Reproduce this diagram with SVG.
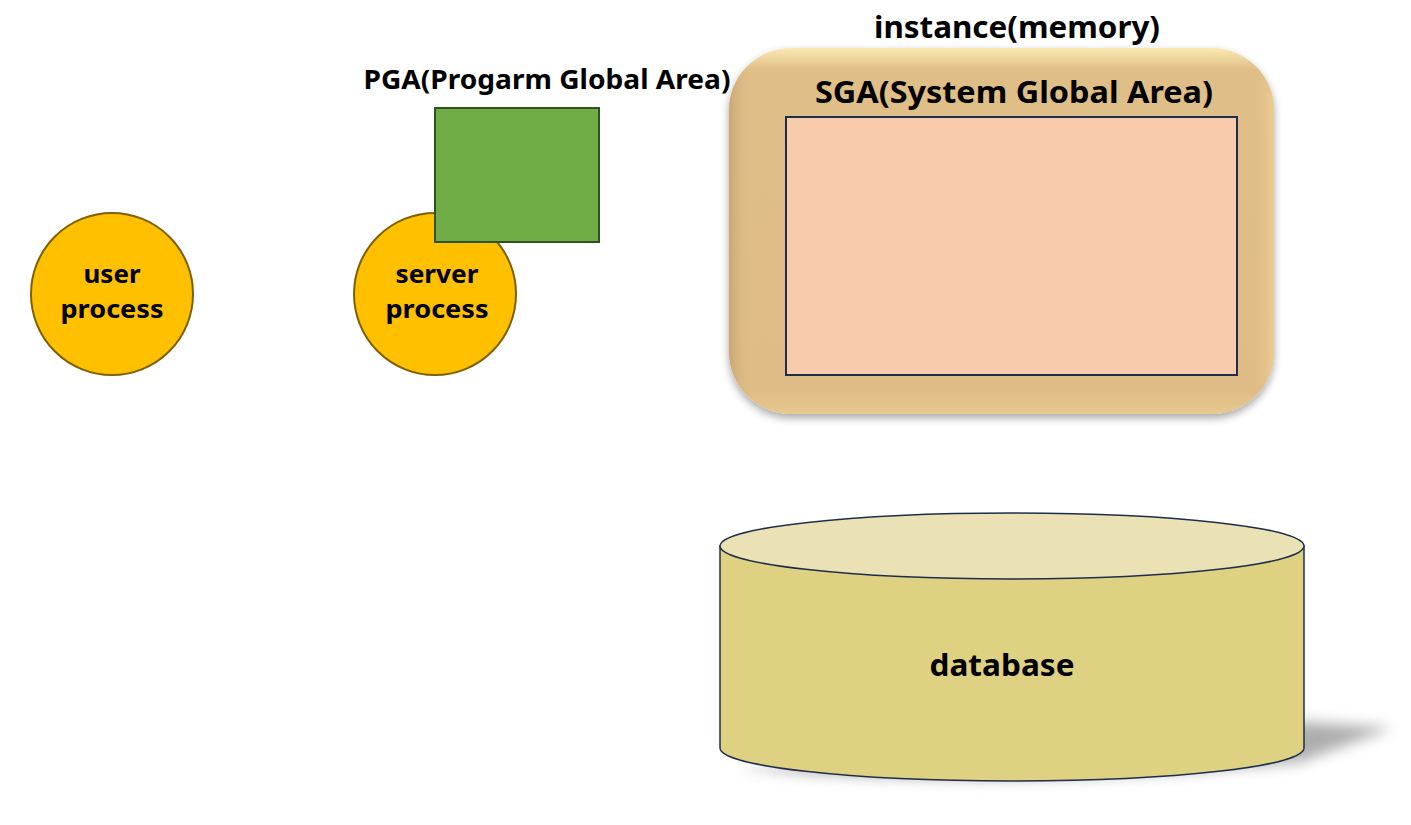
<svg xmlns="http://www.w3.org/2000/svg" width="1411" height="825" viewBox="0 0 1411 825">
<defs>
<style>
.t{font-family:"Noto Sans","Liberation Sans",sans-serif;font-weight:bold;fill:#000;text-anchor:middle}
.proc{fill:#FFC000;stroke:#7F6000;stroke-width:2}
</style>
<filter id="blur" x="-20%" y="-50%" width="140%" height="200%"><feGaussianBlur stdDeviation="7"/></filter>
<filter id="soft" x="-10%" y="-10%" width="120%" height="130%"><feGaussianBlur in="SourceAlpha" stdDeviation="4"/><feOffset dy="4"/><feComponentTransfer><feFuncA type="linear" slope="0.35"/></feComponentTransfer><feMerge><feMergeNode/><feMergeNode in="SourceGraphic"/></feMerge></filter>
<linearGradient id="bevV" x1="0" y1="0" x2="0" y2="1">
<stop offset="0" stop-color="#fbe9b3"/>
<stop offset="0.06" stop-color="#e0be87"/>
<stop offset="0.94" stop-color="#dfbc85"/>
<stop offset="1" stop-color="#e8c98e"/>
</linearGradient>
<linearGradient id="bevH" x1="0" y1="0" x2="1" y2="0">
<stop offset="0" stop-color="#b89868" stop-opacity="0.6"/>
<stop offset="0.04" stop-color="#e0be87" stop-opacity="0"/>
<stop offset="0.96" stop-color="#e0be87" stop-opacity="0"/>
<stop offset="1" stop-color="#f0d498" stop-opacity="0.7"/>
</linearGradient>
</defs>

<g id="connectors"></g>

<g id="user-process">
<circle class="proc" cx="112" cy="294" r="81"/>
<text class="t" x="112" y="283" font-size="25" textLength="57" lengthAdjust="spacingAndGlyphs">user</text>
<text class="t" x="112" y="318" font-size="25" textLength="103" lengthAdjust="spacingAndGlyphs">process</text>
</g>

<g id="server-process">
<circle class="proc" cx="435" cy="294" r="81"/>
<text class="t" x="437" y="283" font-size="25" textLength="83" lengthAdjust="spacingAndGlyphs">server</text>
<text class="t" x="437" y="318" font-size="25" textLength="103" lengthAdjust="spacingAndGlyphs">process</text>
</g>

<g id="pga">
<text class="t" x="547" y="89" font-size="26" textLength="367" lengthAdjust="spacingAndGlyphs">PGA(Progarm Global Area)</text>
<rect x="435" y="108" width="164" height="134" fill="#70AD47" stroke="#2F5320" stroke-width="2"/>
</g>

<g id="instance">
<text class="t" x="1017" y="38" font-size="30" textLength="286" lengthAdjust="spacingAndGlyphs">instance(memory)</text>
<g filter="url(#soft)">
<rect x="729" y="48" width="545" height="366" rx="62" ry="62" fill="url(#bevV)"/>
</g>
<rect x="729" y="48" width="545" height="366" rx="62" ry="62" fill="url(#bevH)"/>
<g id="sga">
<text class="t" x="1014" y="103" font-size="30" textLength="398" lengthAdjust="spacingAndGlyphs">SGA(System Global Area)</text>
<rect x="786" y="117" width="451" height="258" fill="#F7CBAC" stroke="#1F2D4D" stroke-width="2"/>
</g>
</g>

<g id="database">
<path d="M740 768 Q1000 792 1300 762 L1392 728 L1305 722 Z" fill="#777" opacity="0.6" filter="url(#blur)"/>
<path d="M720 546 L720 748 A292 33 0 0 0 1304 748 L1304 546 Z" fill="#DFD182" stroke="#1F2D4D" stroke-width="1.5"/>
<ellipse cx="1012" cy="546" rx="292" ry="33" fill="#EAE2B5" stroke="#1F2D4D" stroke-width="1.5"/>
<text class="t" x="1002" y="676" font-size="30" textLength="145" lengthAdjust="spacingAndGlyphs">database</text>
</g>
</svg>
